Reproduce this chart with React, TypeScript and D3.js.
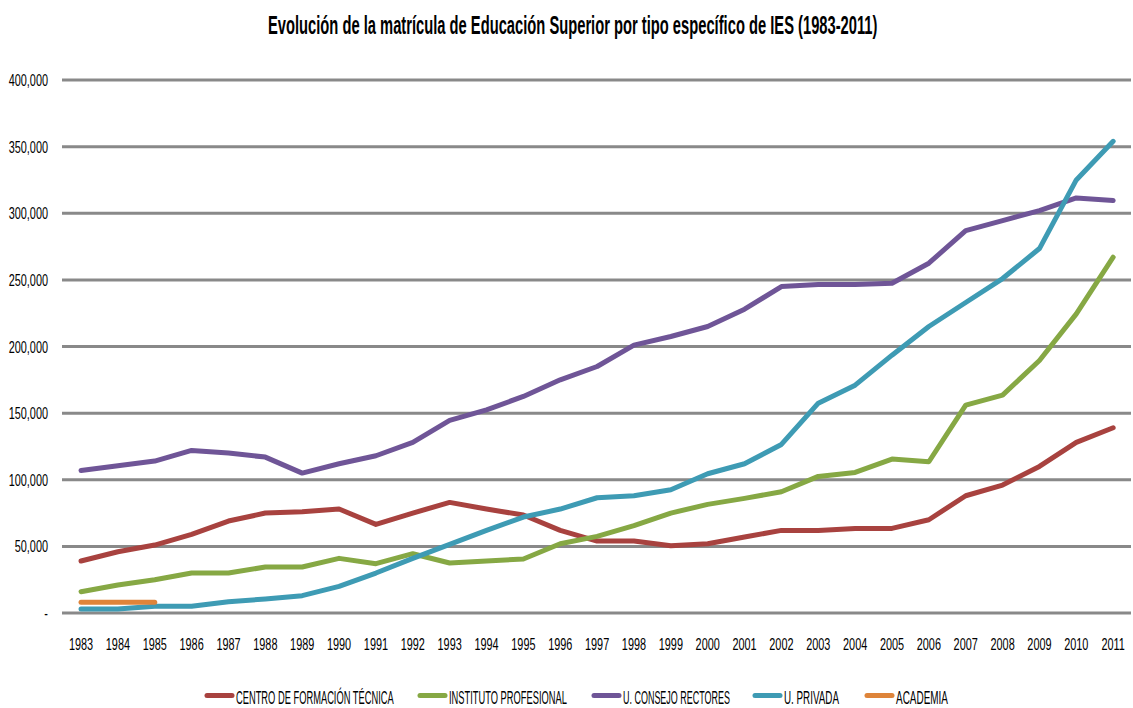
import React from "react";
import * as d3 from "d3";

const years = [1983,1984,1985,1986,1987,1988,1989,1990,1991,1992,1993,1994,1995,1996,1997,1998,1999,2000,2001,2002,2003,2004,2005,2006,2007,2008,2009,2010,2011];

const cft = [39000,46000,51000,59000,69000,75000,76000,78000,66500,75000,83000,78000,73500,62000,54000,54000,50500,52000,57000,62000,62000,63500,63500,70000,88000,96000,110000,128000,139000];
const ip = [16000,21000,25000,30000,30000,34500,34500,41000,37000,44500,37500,39000,40500,52000,57500,65500,75000,81500,86000,91000,102500,105500,115500,113500,156000,163500,189500,224500,267000];
const ucr = [107000,110500,114000,122000,120000,117000,105000,112000,118000,128000,144500,152500,162500,175000,185000,201000,207500,215000,228000,245000,246500,246500,247500,262500,287000,294500,302000,311500,309500];
const upriv = [3000,3000,5000,5000,8500,10500,13000,20000,30000,41000,51500,62000,72000,78000,86500,88000,92500,104500,112000,126500,157500,171000,193500,215000,233000,251000,273500,325000,354000];
const academia = [8000,8000,8000];

const yTicks = [0,50000,100000,150000,200000,250000,300000,350000,400000];

const seriesNames = ["CENTRO DE FORMACIÓN TÉCNICA","INSTITUTO PROFESIONAL","U. CONSEJO RECTORES","U. PRIVADA","ACADEMIA"];
const seriesColors = ["#A8423F","#86A844","#6F5597","#3E9BB4","#DE843A"];
const seriesData = [cft, ip, ucr, upriv, academia];

const legendSwatchX = [205,418,592,753,865];
const legendTextW = [158,118,107,55,52];

const FONT_FAMILY = "Liberation Sans";

let ctx: CanvasRenderingContext2D | null = null;
function measure(text: string, size: number, weight: string) {
  if (!ctx) ctx = document.createElement("canvas").getContext("2d");
  if (!ctx) return text.length * size * 0.55;
  ctx.font = `${weight} ${size}px "${FONT_FAMILY}"`;
  return ctx.measureText(text).width;
}

type FitProps = {
  x: number; y: number; text: string; size: number; weight?: string;
  anchor?: "start" | "middle" | "end"; width?: number; scale?: number;
};

function FitText({ x, y, text, size, weight = "normal", anchor = "start", width, scale }: FitProps) {
  let s = scale ?? 1;
  if (width !== undefined) s = width / measure(text, size, weight);
  return (
    <text transform={`translate(${x},${y}) scale(${s},1)`} textAnchor={anchor}
      fontFamily={FONT_FAMILY} fontSize={size} fontWeight={weight} fill="#000">
      {text}
    </text>
  );
}

export default function App() {
  const W = 1133, H = 708;
  const x = d3.scalePoint<number>().domain(years).range([62.6, 1131.6]).padding(0.5);
  const y = d3.scaleLinear().domain([0, 400000]).range([613, 80]);
  const fmt = d3.format(",");
  const line = (vals: number[]) =>
    d3.line<number>().x((_, i) => x(years[i]) as number).y((v) => y(v))(vals) || "";
  const AX = 0.66;

  return (
    <svg width={W} height={H} style={{ position: "absolute", left: 0, top: 0, background: "#fff" }}>
      <rect x={0} y={0} width={W} height={H} fill="#fff" />
      <FitText x={268} y={34} text="Evolución de la matrícula de Educación Superior por tipo específico de IES (1983-2011)"
        size={25} weight="bold" width={610} />
      {yTicks.map((t) => (
        <g key={t}>
          <line x1={62} x2={1131} y1={y(t)} y2={y(t)} stroke="#898989" strokeWidth={3} />
          <FitText x={48} y={y(t) + 6} text={t === 0 ? "-" : fmt(t)} size={16.5} anchor="end" scale={AX} />
        </g>
      ))}
      {years.map((yr) => (
        <FitText key={yr} x={x(yr) as number} y={650} text={String(yr)} size={16.5} anchor="middle" scale={AX} />
      ))}
      {seriesData.map((vals, i) => (
        <path key={i} d={line(vals)} fill="none" stroke={seriesColors[i]} strokeWidth={5}
          strokeLinejoin="round" strokeLinecap="round" />
      ))}
      {seriesNames.map((name, i) => (
        <g key={name}>
          <line x1={legendSwatchX[i] + 2} x2={legendSwatchX[i] + 27} y1={695.5} y2={695.5}
            stroke={seriesColors[i]} strokeWidth={5} strokeLinecap="round" />
          <FitText x={legendSwatchX[i] + 31} y={704} text={name} size={18} width={legendTextW[i]} />
        </g>
      ))}
    </svg>
  );
}
